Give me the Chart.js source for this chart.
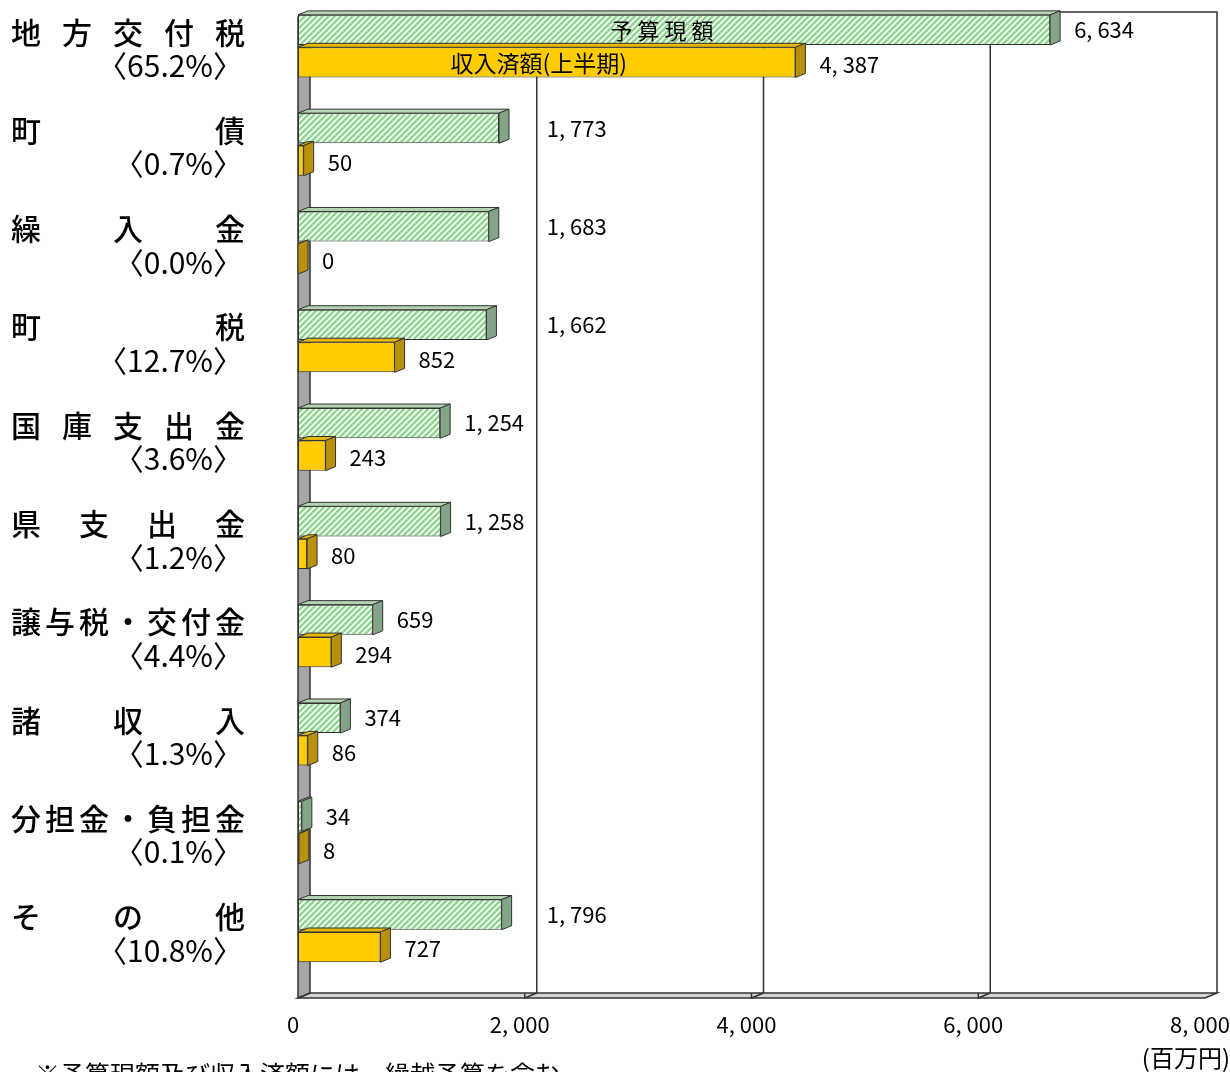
<!DOCTYPE html>
<html>
<head>
<meta charset="utf-8">
<script src="https://cdn.jsdelivr.net/npm/chart.js@4.4.1/dist/chart.umd.min.js"></script>
<style>
html, body { margin: 0; padding: 0; background: #fff; overflow: hidden; }
#wrap { width: 1230px; height: 1075px; margin-top: -3px; }
</style>
</head>
<body>
<div id="wrap"><canvas id="Canvasnya" width="1230" height="1075"></canvas></div>
<script>
var categories = ['地方交付税', '町債', '繰入金', '町税', '国庫支出金', '県支出金', '譲与税・交付金', '諸収入', '分担金・負担金', 'その他'];
var shares = ['65.2', '0.7', '0.0', '12.7', '3.6', '1.2', '4.4', '1.3', '0.1', '10.8'];
var budgetData = [6634, 1773, 1683, 1662, 1254, 1258, 659, 374, 34, 1796];   // 予算現額
var revenueData = [4387, 50, 0, 852, 243, 80, 294, 86, 8, 727];             // 収入済額(上半期)
var xTicks = [0, 2000, 4000, 6000, 8000];
var budgetLabel = '予算現額';
var revenueLabel = '収入済額(上半期)';
var unitLabel = '(百万円)';
var noteText = '※予算現額及び収入済額には、繰越予算を含む';

var FONT = '"Noto Sans CJK JP", "Noto Sans", sans-serif';
var OFF = 3;          // canvas is pulled up 3px
var D = 12, DY = 5;   // depth of the back wall
var BD = 10, BDY = 4; // depth of the bars

function fmt(v) {
    return Number(v).toLocaleString('en-US').replace(/,/g, ', ');
}

// hatched green fill
var pc = document.createElement('canvas');
pc.width = 6; pc.height = 6;
var p = pc.getContext('2d');
p.fillStyle = '#ffffff';
p.fillRect(0, 0, 6, 6);
p.strokeStyle = '#8fd68f';
p.lineWidth = 2.6;
p.beginPath();
p.moveTo(-1, 7); p.lineTo(7, -1);
p.moveTo(-4, 4); p.lineTo(4, -4);
p.moveTo(2, 10); p.lineTo(10, 2);
p.stroke();
var GKChart = document.getElementById('Canvasnya').getContext('2d');
var hatch = GKChart.createPattern(pc, 'repeat');

var faces = [
    { side: '#84a488', top: '#b3d3b3' },
    { side: '#b8900c', top: '#e6b800' }
];

var frame3d = {
    id: 'frame3d',
    beforeDatasetsDraw: function (chart) {
        var ctx = chart.ctx, xs = chart.scales.x;
        var x0 = xs.getPixelForValue(0), x1 = xs.getPixelForValue(8000);
        var top = 12 + OFF, fb = 993 + OFF, ff = 998 + OFF;
        ctx.save();
        ctx.strokeStyle = '#333';
        ctx.lineWidth = 1.5;
        // floor
        ctx.fillStyle = '#d4d4d4';
        ctx.beginPath();
        ctx.moveTo(x0, ff); ctx.lineTo(x0 + D, fb); ctx.lineTo(x1 + D, fb); ctx.lineTo(x1, ff);
        ctx.closePath(); ctx.fill(); ctx.stroke();
        // back frame
        ctx.beginPath();
        ctx.moveTo(x0 + D, top); ctx.lineTo(x1 + D, top); ctx.lineTo(x1 + D, fb);
        ctx.stroke();
        // grid lines
        xTicks.forEach(function (v) {
            if (v === 0 || v === 8000) return;
            var gx = xs.getPixelForValue(v);
            ctx.beginPath();
            ctx.moveTo(gx + D, top); ctx.lineTo(gx + D, fb);
            ctx.moveTo(gx, ff - 5); ctx.lineTo(gx, ff); ctx.lineTo(gx + D, fb);
            ctx.stroke();
        });
        // wall
        ctx.fillStyle = '#a6a6a6';
        ctx.beginPath();
        ctx.moveTo(x0, top + DY); ctx.lineTo(x0 + D, top); ctx.lineTo(x0 + D, fb); ctx.lineTo(x0, ff);
        ctx.closePath(); ctx.fill(); ctx.stroke();
        ctx.restore();
    },
    afterDatasetsDraw: function (chart) {
        var ctx = chart.ctx, xs = chart.scales.x, ys = chart.scales.y;
        ctx.save();
        ctx.lineWidth = 1;
        ctx.strokeStyle = '#333';
        var grids = [2000, 4000, 6000].map(function (v) { return xs.getPixelForValue(v) + D; });
        chart.data.datasets.forEach(function (ds, di) {
            var meta = chart.getDatasetMeta(di);
            meta.data.forEach(function (el, i) {
                var b = el.getProps(['x', 'y', 'base', 'height'], true);
                var t = b.y - b.height / 2, bt = b.y + b.height / 2;
                // top face
                ctx.fillStyle = faces[di].top;
                ctx.beginPath();
                ctx.moveTo(b.base, t); ctx.lineTo(b.base + BD, t - BDY); ctx.lineTo(b.x + BD, t - BDY); ctx.lineTo(b.x, t);
                ctx.closePath(); ctx.fill(); ctx.stroke();
                // side face
                ctx.fillStyle = faces[di].side;
                ctx.beginPath();
                ctx.moveTo(b.x, t); ctx.lineTo(b.x + BD, t - BDY); ctx.lineTo(b.x + BD, bt - BDY); ctx.lineTo(b.x, bt);
                ctx.closePath(); ctx.fill(); ctx.stroke();
                // value label
                ctx.font = '22px ' + FONT;
                ctx.fillStyle = '#000';
                ctx.textAlign = 'left';
                ctx.textBaseline = 'middle';
                var txt = fmt(ds.data[i]);
                var w = ctx.measureText(txt).width;
                var lx = b.x + BD + 14;
                grids.forEach(function (g) {
                    if (lx < g + 8 && lx + w > g - 4) lx = g + 10;
                });
                ctx.fillText(txt, lx, b.y + (di === 1 ? 2 : 0));
                // series name inside the first bar
                if (i === 0) {
                    var cx = (b.base + b.x) / 2 - 8;
                    ctx.font = '22px ' + FONT;
                    ctx.textAlign = 'center';
                    if (di === 0) {
                        var chars = Array.from(ds.label), step = 27;
                        chars.forEach(function (c, k) {
                            ctx.fillText(c, cx - 4 + (k - (chars.length - 1) / 2) * step, b.y + 1);
                        });
                    } else {
                        ctx.font = '23px ' + FONT;
                        ctx.fillText(ds.label, cx, b.y + 1);
                    }
                }
            });
        });
        // category labels
        categories.forEach(function (name, i) {
            var cy = ys.getPixelForValue(i);
            ctx.font = '500 30px ' + FONT;
            ctx.textAlign = 'left';
            ctx.textBaseline = 'middle';
            var chars = Array.from(name);
            var ws = chars.map(function (c) { return ctx.measureText(c).width; });
            var sum = ws.reduce(function (a, c) { return a + c; }, 0);
            var gap = (234 - sum) / (chars.length - 1);
            var x = 11;
            chars.forEach(function (c, k) {
                ctx.fillText(c, x, cy - 14);
                x += ws[k] + gap;
            });
            ctx.font = '30px ' + FONT;
            ctx.textAlign = 'right';
            ctx.fillText('〈' + shares[i] + '%〉', 243, cy + 19.5);
        });
        // unit and note
        ctx.font = '24px ' + FONT;
        ctx.textAlign = 'right';
        ctx.textBaseline = 'middle';
        ctx.fillText(unitLabel, 1230, 1058 + OFF);
        ctx.font = '25px ' + FONT;
        ctx.textAlign = 'left';
        ctx.textBaseline = 'top';
        ctx.fillText(noteText, 35, 1062 + OFF);
        ctx.restore();
    }
};

var myChart = new Chart(GKChart, {
    type: 'bar',
    data: {
        labels: categories,
        datasets: [{
            label: budgetLabel,
            data: budgetData,
            backgroundColor: hatch,
            borderColor: '#333',
            borderWidth: 1,
            borderSkipped: false
        }, {
            label: revenueLabel,
            data: revenueData,
            backgroundColor: '#ffcc00',
            borderColor: '#333',
            borderWidth: 1,
            borderSkipped: false
        }]
    },
    options: {
        indexAxis: 'y',
        responsive: false,
        animation: false,
        devicePixelRatio: 1,
        categoryPercentage: 0.66,
        barPercentage: 0.93,
        layout: { padding: { left: 298, right: 25, top: 0, bottom: 0 } },
        plugins: { legend: { display: false }, tooltip: { enabled: false } },
        scales: {
            y: { display: false },
            x: {
                min: 0,
                max: 8000,
                afterBuildTicks: function (s) { s.ticks = xTicks.map(function (v) { return { value: v }; }); },
                afterFit: function (s) { s.height = 92; s.paddingLeft = 0; s.paddingRight = 0; },
                grid: { display: false },
                border: { display: false },
                ticks: {
                    color: '#000',
                    font: { size: 22, family: FONT },
                    padding: 23,
                    labelOffset: -5,
                    maxRotation: 0,
                    callback: function (v) { return fmt(v); }
                }
            }
        }
    },
    plugins: [frame3d]
});
</script>
</body>
</html>
